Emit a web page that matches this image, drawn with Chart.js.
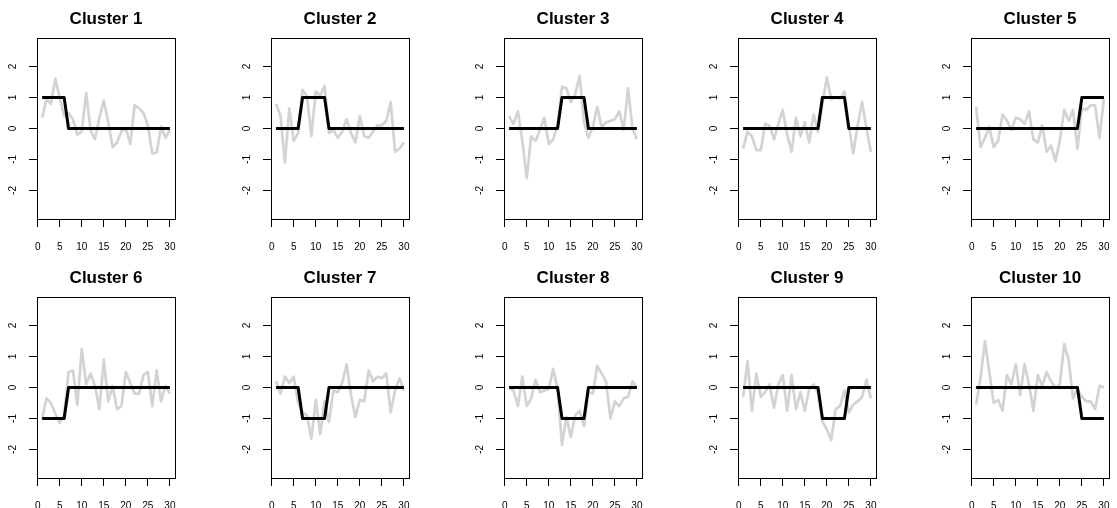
<!DOCTYPE html>
<html>
<head>
<meta charset="utf-8">
<script src="https://cdn.jsdelivr.net/npm/chart.js@4"></script>
<style>
  html, body { margin: 0; padding: 0; background: #fff; overflow: hidden; }
  body { width: 1117px; height: 508px; position: relative; }
  canvas { position: absolute; }
</style>
</head>
<body>
<div id="grid"></div>
<script>
// x positions shared by every panel
const xValues = [1,2,3,4,5,6,7,8,9,10,11,12,13,14,15,16,17,18,19,20,21,22,23,24,25,26,27,28,29,30];

const clusterNames = ['Cluster 1','Cluster 2','Cluster 3','Cluster 4','Cluster 5',
                      'Cluster 6','Cluster 7','Cluster 8','Cluster 9','Cluster 10'];

// black step profiles (cluster centres)
const center1  = [1,1,1,1,1,1,0,0,0,0,0,0,0,0,0,0,0,0,0,0,0,0,0,0,0,0,0,0,0,0];
const center2  = [0,0,0,0,0,0,1,1,1,1,1,1,0,0,0,0,0,0,0,0,0,0,0,0,0,0,0,0,0,0];
const center3  = [0,0,0,0,0,0,0,0,0,0,0,0,1,1,1,1,1,1,0,0,0,0,0,0,0,0,0,0,0,0];
const center4  = [0,0,0,0,0,0,0,0,0,0,0,0,0,0,0,0,0,0,1,1,1,1,1,1,0,0,0,0,0,0];
const center5  = [0,0,0,0,0,0,0,0,0,0,0,0,0,0,0,0,0,0,0,0,0,0,0,0,1,1,1,1,1,1];
const center6  = [-1,-1,-1,-1,-1,-1,0,0,0,0,0,0,0,0,0,0,0,0,0,0,0,0,0,0,0,0,0,0,0,0];
const center7  = [0,0,0,0,0,0,-1,-1,-1,-1,-1,-1,0,0,0,0,0,0,0,0,0,0,0,0,0,0,0,0,0,0];
const center8  = [0,0,0,0,0,0,0,0,0,0,0,0,-1,-1,-1,-1,-1,-1,0,0,0,0,0,0,0,0,0,0,0,0];
const center9  = [0,0,0,0,0,0,0,0,0,0,0,0,0,0,0,0,0,0,-1,-1,-1,-1,-1,-1,0,0,0,0,0,0];
const center10 = [0,0,0,0,0,0,0,0,0,0,0,0,0,0,0,0,0,0,0,0,0,0,0,0,-1,-1,-1,-1,-1,-1];

// grey observed series
const obs1  = [0.35,0.95,0.8,1.6,1.0,0.4,0.5,0.3,-0.2,-0.1,1.15,-0.05,-0.35,0.35,0.9,0.2,-0.6,-0.45,-0.1,0.0,-0.5,0.75,0.65,0.5,0.1,-0.8,-0.78,0.05,-0.3,-0.05];
const obs2  = [0.8,0.4,-1.1,0.65,-0.4,-0.15,1.25,1.05,-0.25,1.2,1.05,1.38,-0.15,-0.05,-0.3,-0.1,0.3,-0.15,-0.45,0.4,-0.25,-0.3,-0.1,0.1,0.1,0.25,0.85,-0.75,-0.65,-0.45];
const obs3  = [0.4,0.15,0.55,-0.4,-1.6,-0.25,-0.4,-0.05,0.35,-0.5,-0.35,0.1,1.35,1.3,0.85,1.1,1.7,0.2,-0.3,0.05,0.7,0.05,0.2,0.25,0.3,0.55,-0.05,1.3,0.0,-0.35];
const obs4  = [-0.65,-0.1,-0.25,-0.7,-0.7,0.15,0.1,-0.35,0.15,0.6,-0.2,-0.75,0.35,-0.25,0.2,-0.45,0.45,-0.1,0.8,1.65,0.95,1.0,0.95,1.2,0.1,-0.8,0.1,0.85,0.0,-0.75];
const obs5  = [0.7,-0.6,-0.3,0.05,-0.6,-0.4,0.45,0.25,-0.05,0.35,0.3,0.15,0.55,-0.35,-0.45,0.1,-0.75,-0.55,-1.05,-0.4,0.6,0.25,0.6,-0.65,0.65,0.6,0.75,0.75,-0.3,0.95];
const obs6  = [-1.0,-0.35,-0.5,-0.85,-1.15,-0.9,0.5,0.55,-0.55,1.25,0.1,0.45,0.05,-0.7,0.9,-0.45,0.05,-0.7,-0.6,0.5,0.15,-0.2,-0.2,0.4,0.5,-0.6,0.55,-0.45,0.05,-0.2];
const obs7  = [0.2,-0.2,0.35,0.15,0.35,-0.5,-0.8,-0.9,-1.65,-0.4,-1.5,-0.45,-1.1,-0.1,-0.15,0.15,0.75,-0.25,-0.95,-0.4,-0.45,0.55,0.2,0.35,0.3,0.45,-0.8,-0.1,0.3,-0.1];
const obs8  = [0.0,-0.1,-0.6,0.35,-0.6,-0.35,0.25,-0.15,-0.1,-0.05,0.6,-0.05,-1.85,-0.95,-1.6,-0.9,-0.75,-1.25,-0.15,-0.2,0.7,0.45,0.2,-1.0,-0.45,-0.6,-0.35,-0.3,0.2,0.0];
const obs9  = [-0.3,0.85,-0.75,0.45,-0.3,-0.15,0.1,-0.65,0.1,0.4,-0.75,0.4,-0.7,-0.15,-0.75,-0.05,0.1,-0.2,-1.1,-1.35,-1.7,-0.7,-0.6,-0.1,-0.8,-0.55,-0.45,-0.3,0.25,-0.35];
const obs10 = [-0.55,0.3,1.5,0.5,-0.5,-0.4,-0.75,0.4,0.1,0.75,-0.25,0.75,0.1,-0.75,0.4,0.05,0.5,0.2,0.0,0.1,1.4,0.9,-0.35,-0.05,-0.3,-0.45,-0.45,-0.7,0.05,0.0];

const centers = [center1,center2,center3,center4,center5,center6,center7,center8,center9,center10];
const observed = [obs1,obs2,obs3,obs4,obs5,obs6,obs7,obs8,obs9,obs10];

const FONT = '"Liberation Sans", Arial, Helvetica, sans-serif';

// draw the full box round the plot region, like R's box()
const boxPlugin = {
  id: 'box',
  afterDraw(chart) {
    const a = chart.chartArea, ctx = chart.ctx;
    ctx.save();
    ctx.strokeStyle = '#000';
    ctx.lineWidth = 1;
    ctx.strokeRect(Math.round(a.left) + 0.5, Math.round(a.top) + 0.5,
                   Math.round(a.right - a.left), Math.round(a.bottom - a.top));
    ctx.restore();
  }
};

const toPoints = ys => xValues.map((x, i) => ({x: x, y: ys[i]}));

const grid = document.getElementById('grid');
clusterNames.forEach((name, i) => {
  const col = i % 5, row = Math.floor(i / 5);
  const cv = document.createElement('canvas');
  cv.width = 190; cv.height = 258;
  cv.style.left = (col * 233.5) + 'px';
  cv.style.top = (row * 258.7) + 'px';
  grid.appendChild(cv);

  new Chart(cv.getContext('2d'), {
    type: 'line',
    data: {
      datasets: [
        { data: toPoints(centers[i]), borderColor: '#000', borderWidth: 3, order: 0 },
        { data: toPoints(observed[i]), borderColor: '#d3d3d3', borderWidth: 2.7, order: 1 }
      ]
    },
    options: {
      responsive: false,
      animation: false,
      devicePixelRatio: 1,
      layout: { padding: { left: 0, right: 10, top: 0, bottom: 0 } },
      elements: { point: { radius: 0 }, line: { tension: 0, borderJoinStyle: 'round', borderCapStyle: 'butt' } },
      plugins: {
        legend: { display: false },
        tooltip: { enabled: false },
        title: {
          display: true, text: name, color: '#000', fullSize: false,
          font: { family: FONT, size: 17, weight: 'bold' },
          padding: { top: 8.8, bottom: 8.8 }
        }
      },
      scales: {
        x: {
          type: 'linear', min: -0.16, max: 31.16,
          afterFit: s => { s.height = 39; },
          border: { display: false },
          grid: { drawOnChartArea: false, drawTicks: true, tickLength: 8, tickColor: '#000', color: '#000' },
          ticks: { stepSize: 5, includeBounds: false, autoSkip: false, maxRotation: 0, padding: 14,
                   color: '#000', font: { family: FONT, size: 10 } }
        },
        y: {
          type: 'linear', min: -2.92, max: 2.92,
          afterFit: s => { s.width = 37; },
          border: { display: false },
          grid: { drawOnChartArea: false, drawTicks: true, tickLength: 8, tickColor: '#000', color: '#000' },
          ticks: { stepSize: 1, includeBounds: false, minRotation: 90, maxRotation: 90, crossAlign: 'center',
                   padding: 11.8, color: '#000', font: { family: FONT, size: 10 } }
        }
      }
    },
    plugins: [boxPlugin]
  });
});
</script>
</body>
</html>
